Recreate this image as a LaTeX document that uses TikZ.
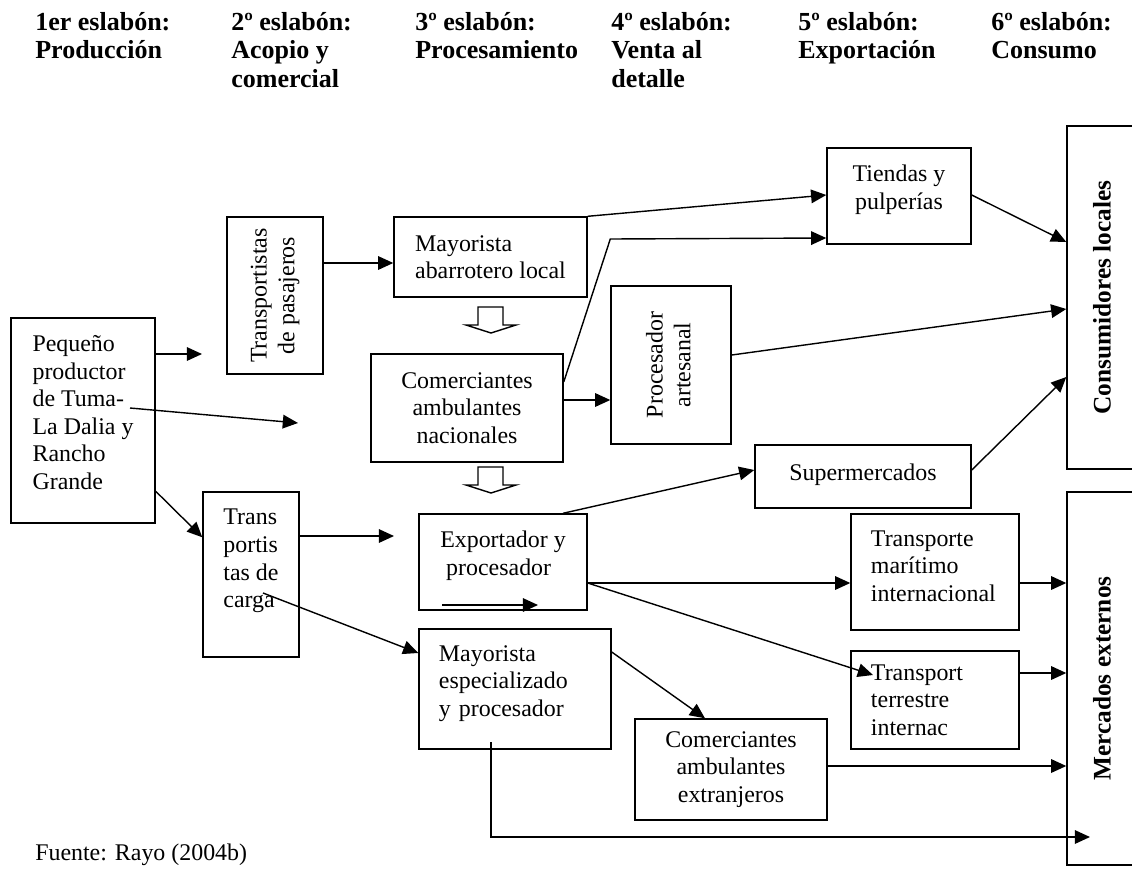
\documentclass[tikz,border=0pt]{standalone}
\usepackage{fontspec}
\setmainfont{Liberation Serif}
\usetikzlibrary{arrows.meta}
\newcommand{\txtfont}{\fontsize{17}{19.6}\selectfont}
\newcommand{\hdfont}{\fontsize{18.5}{20.2}\selectfont\bfseries}
\newcommand{\lift}[1]{\rule[-#1]{0pt}{0pt}}
\tikzset{
  box/.style={draw, line width=1pt, inner sep=0pt, font=\txtfont, align=center},
  boxl/.style={box, align=left},
  boxw/.style={boxl, inner xsep=0.5cm, text width=#1},
  hd/.style={anchor=north west, inner sep=0pt, font=\hdfont, align=left},
  arr/.style={-{Triangle[length=0.38cm,width=0.34cm]}, line width=1pt},
}
\begin{document}
\begin{tikzpicture}[x=0.025cm, y=-0.025cm]
\useasboundingbox (0,0) rectangle (1132,876);
% eslabones
\node[hd] (h1) at (35,12) {1er eslabón:\\Producción};
\node[hd] (h2) at (231,12) {2º eslabón:\\Acopio y\\comercial};
\node[hd] (h3) at (415,12) {3º eslabón:\\Procesamiento};
\node[hd] (h4) at (611,12) {4º eslabón:\\Venta al\\detalle};
\node[hd] (h5) at (798,12) {5º eslabón:\\Exportación};
\node[hd] (h6) at (991,12) {6º eslabón:\\Consumo};

% actores
\node[boxl, minimum width=3.6cm, minimum height=5.125cm] (prod) at (83,420.5)
  {Pequeño\\productor\\de Tuma-\\La Dalia y\\Rancho\\Grande\lift{0.4cm}};
\node[box, minimum width=2.4cm, minimum height=3.925cm] (pas) at (275,295.5)
  {\rotatebox{90}{\begin{tabular}{@{}c@{}}Transportistas\\de pasajeros\end{tabular}}};
\node[boxl, minimum width=2.4cm, minimum height=4.125cm] (car) at (251,574.5)
  {Trans\\portis\\tas de\\carga\lift{0.8cm}};
\node[boxl, minimum width=4.825cm, minimum height=2cm] (aba) at (490.5,257)
  {Mayorista\\abarrotero local};
\node[box, minimum width=4.8cm, minimum height=2.7cm] (nac) at (467,408)
  {Comerciantes\\ambulantes\\nacionales};
\node[boxl, minimum width=4.2cm, minimum height=2.4cm] (exp) at (503,562)
  {Exportador y\\\ procesador\lift{0.45cm}};
\node[boxw=3.8cm, minimum width=4.8cm, minimum height=3cm] (esp) at (515,689)
  {Mayorista\\especializado\\y procesador\lift{0.4cm}};
\node[box, minimum width=3cm, minimum height=3.95cm] (art) at (671,365)
  {\rotatebox{90}{\begin{tabular}{@{}c@{}}Procesador\\artesanal\end{tabular}}};
\node[box, minimum width=3.6cm, minimum height=2.4cm] (tie) at (899,196)
  {Tiendas y\\pulperías\lift{0.45cm}};
\node[box, minimum width=5.4cm, minimum height=1.575cm] (sup) at (863,476.5)
  {Supermercados\lift{0.2cm}};
\node[box, minimum width=4.8cm, minimum height=2.525cm] (ext) at (731,769.5)
  {Comerciantes\\ambulantes\\extranjeros};
\node[boxw=3.2cm, minimum width=4.2cm, minimum height=2.9cm] (mar) at (935,572)
  {Transporte\\marítimo\\internacional\lift{0.3cm}};
\node[boxw=3.2cm, minimum width=4.2cm, minimum height=2.45cm] (ter) at (935,700)
  {Transport\\terrestre\\internac};
\node[box, minimum width=1.75cm, minimum height=8.575cm] (con) at (1102,297.5)
  {\rotatebox{90}{\fontsize{18}{20}\selectfont\bfseries Consumidores locales}};
\node[box, minimum width=1.75cm, minimum height=9.325cm] (mer) at (1102,678.5)
  {\rotatebox{90}{\fontsize{18}{20}\selectfont\bfseries Mercados externos}};
\node[anchor=west, inner sep=0pt, font=\txtfont] (src) at (35,855) {Fuente: Rayo (2004b)};

% flechas huecas
\foreach \y in {307,467}
  \draw[line width=1pt] (478,\y) -- (503,\y) -- (503,\y+18) -- (516,\y+18)
    -- (491,\y+26) -- (466,\y+18) -- (478,\y+18) -- cycle;

% puntos sueltos
\coordinate (a1) at (202,354);
\coordinate (b0) at (130,408);
\coordinate (b1) at (298,423);
\coordinate (c1) at (394,536);
\coordinate (c0) at (263,593);
\coordinate (e0) at (442,605);
\coordinate (e1) at (538,605);
\coordinate (t1) at (873,675);
\coordinate (d0) at (491,742);
\coordinate (d1) at (1090,837);

% flujos
\draw[arr] (prod.east |- a1) -- (a1);
\draw[arr] (b0) -- (b1);
\draw[arr] (prod.east |- car.north) -- ([yshift=-1.15cm]car.north west);
\draw[arr] (pas.east |- 0,263) -- (aba.west |- 0,263);
\draw[arr] (car.east |- c1) -- (c1);
\draw[arr] (c0) -- (esp.west |- 0,653);
\draw[arr] (aba.north east) -- (tie.west |- 0,195);
\draw[arr] (nac.east |- 0,382) -- (art.west |- 0,239) -- (tie.west |- 0,238);
\draw[arr] (nac.east |- 0,400) -- (art.west |- 0,400);
\draw[arr] (art.east |- 0,355) -- (con.west |- 0,309);
\draw[arr] (tie.east |- 0,195) -- (con.west |- 0,242);
\draw[arr] (sup.east |- 0,470) -- (con.west |- 0,377);
\draw[arr] (exp.north -| 563,0) -- (sup.west |- 0,470);
\draw[arr] (e0) -- (e1);
\draw[arr] (exp.east |- 0,583) -- (mar.west |- 0,583);
\draw[arr] (exp.east |- 0,583) -- (t1);
\draw[arr] (mar.east |- 0,583) -- (mer.west |- 0,583);
\draw[arr] (ter.east |- 0,673) -- (mer.west |- 0,673);
\draw[arr] (esp.east |- 0,652) -- (ext.north -| 705,0);
\draw[arr] (ext.east |- 0,766) -- (mer.west |- 0,766);
\draw[arr] (d0) |- (d1);
\end{tikzpicture}
\end{document}
